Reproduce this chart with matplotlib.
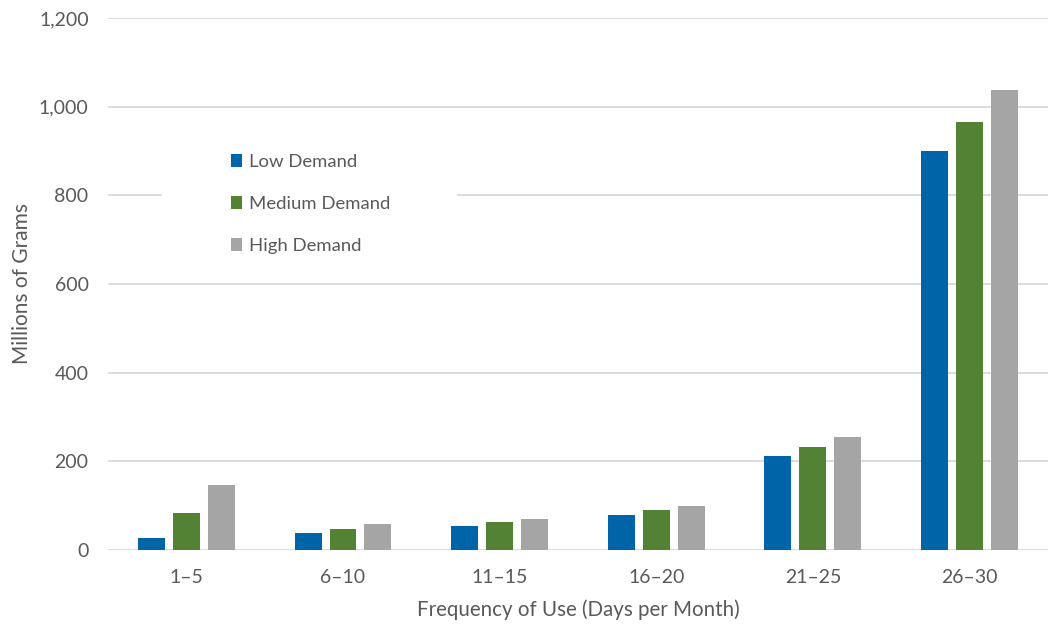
import matplotlib
matplotlib.use("Agg")
import matplotlib.pyplot as plt
import numpy as np
from matplotlib.ticker import FuncFormatter
from matplotlib.patches import Rectangle

categories = ["1–5", "6–10", "11–15", "16–20", "21–25", "26–30"]
low = [28, 38, 54, 79, 213, 900]
medium = [84, 48, 64, 90, 233, 966]
high = [146, 59, 69, 100, 254, 1038]
series_names = ["Low Demand", "Medium Demand", "High Demand"]
colors = ["#0065A8", "#548235", "#A5A5A5"]

plt.rcParams['font.family'] = ['Lato', 'DejaVu Sans']
text_color = "#595959"

fig = plt.figure(figsize=(10.52, 6.25), dpi=100)
ax = fig.add_axes([0.1027, 0.12, 0.8933, 0.8512])

x = np.arange(len(categories))
width = 0.172
step = 0.223
for i, (vals, name, c) in enumerate(zip([low, medium, high], series_names, colors)):
    ax.bar(x + (i - 1) * step, vals, width=width, color=c, label=name, zorder=3)

ax.set_xlim(-0.5, 5.5)
ax.set_ylim(0, 1200)
ax.set_yticks(np.arange(0, 1201, 200))
ax.yaxis.set_major_formatter(FuncFormatter(lambda v, p: f"{int(v):,}"))
ax.set_xticks(x)
ax.set_xticklabels(categories)
ax.grid(axis='y', color="#D9D9D9", linewidth=1.3, zorder=0)
for s in ax.spines.values():
    s.set_visible(False)
ax.tick_params(axis='both', length=0, labelsize=14, colors=text_color)
ax.tick_params(axis='x', pad=14)
ax.tick_params(axis='y', pad=14)

ax.set_xlabel("Frequency of Use (Days per Month)", fontsize=14.8, color=text_color, labelpad=9)
ax.set_ylabel("Millions of Grams", fontsize=15, color=text_color, labelpad=5)

# white legend background covering gridline
bg = Rectangle((162 / 1052, 1 - 265 / 625), (457 - 162) / 1052, 130 / 625,
               transform=fig.transFigure, facecolor="white", edgecolor="none", zorder=4)
ax.add_patch(bg)
bg.set_clip_on(False)

leg = ax.legend(loc='upper left', bbox_to_anchor=(231 / 1052, 1 - 154 / 625),
                bbox_transform=fig.transFigure, frameon=False,
                fontsize=13.3, labelspacing=1.4, handlelength=0.62, handleheight=0.7,
                handletextpad=0.38, borderpad=0, borderaxespad=0)
leg.set_zorder(5)
for t in leg.get_texts():
    t.set_color(text_color)

fig.savefig("out.png", dpi=100)
